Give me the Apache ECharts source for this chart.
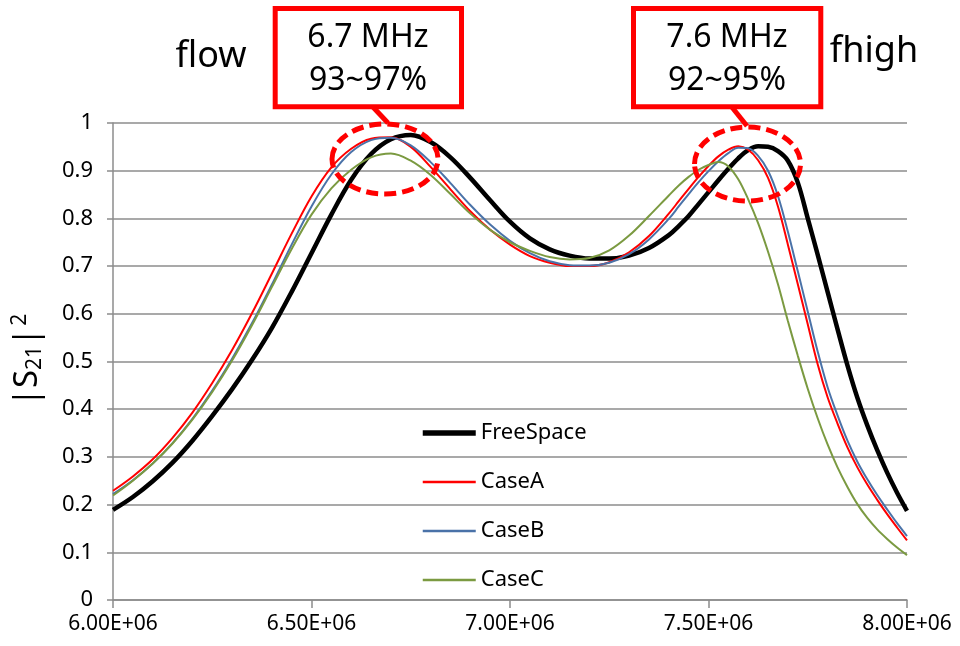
<!DOCTYPE html>
<html>
<head>
<meta charset="utf-8">
<title>|S21|^2 vs frequency</title>
<script src="https://cdn.jsdelivr.net/npm/echarts@6/dist/echarts.min.js"></script>
<style>
  html, body { margin: 0; padding: 0; background: #ffffff; }
  #chart { width: 960px; height: 646px; }
</style>
</head>
<body>
<div id="chart"></div>
<script>
// Frequency samples (MHz): 50 kHz steps, 25 kHz steps over the upper band edge
const freqMHz = [
  6.00, 6.05, 6.10, 6.15, 6.20, 6.25, 6.30, 6.35, 6.40, 6.45,
  6.50, 6.55, 6.60, 6.65, 6.70, 6.75, 6.80, 6.85, 6.90, 6.95,
  7.00, 7.05, 7.10, 7.15, 7.20, 7.25, 7.30, 7.35, 7.40, 7.425,
  7.45, 7.475, 7.50, 7.525, 7.55, 7.575, 7.60, 7.625, 7.65, 7.675,
  7.70, 7.725, 7.75, 7.775, 7.80, 7.825, 7.85, 7.875, 7.90, 7.925,
  7.95, 7.975, 8.00
];

// |S21|^2 for each configuration
const freeSpace = [
  0.189, 0.216, 0.249, 0.288, 0.334, 0.386, 0.442, 0.503, 0.570, 0.646,
  0.727, 0.808, 0.881, 0.935, 0.966, 0.975, 0.960, 0.928, 0.885, 0.838,
  0.793, 0.758, 0.735, 0.722, 0.716, 0.716, 0.722, 0.738, 0.765, 0.784,
  0.805, 0.830, 0.855, 0.880, 0.904, 0.926, 0.943, 0.951, 0.950, 0.941,
  0.921, 0.875, 0.800, 0.724, 0.646, 0.568, 0.492, 0.424, 0.366, 0.314,
  0.267, 0.225, 0.187
];
const caseA = [
  0.229, 0.259, 0.295, 0.340, 0.393, 0.455, 0.524, 0.601, 0.684, 0.768,
  0.846, 0.907, 0.946, 0.967, 0.970, 0.950, 0.908, 0.861, 0.815, 0.776,
  0.745, 0.721, 0.707, 0.700, 0.700, 0.708, 0.729, 0.763, 0.810, 0.836,
  0.862, 0.887, 0.910, 0.930, 0.944, 0.951, 0.944, 0.922, 0.885, 0.825,
  0.745, 0.662, 0.578, 0.494, 0.425, 0.370, 0.320, 0.278, 0.242, 0.210,
  0.180, 0.152, 0.125
];
const caseB = [
  0.222, 0.251, 0.286, 0.329, 0.380, 0.439, 0.506, 0.580, 0.661, 0.745,
  0.825, 0.892, 0.939, 0.964, 0.969, 0.953, 0.918, 0.874, 0.828, 0.787,
  0.753, 0.727, 0.710, 0.702, 0.701, 0.707, 0.725, 0.756, 0.799, 0.825,
  0.851, 0.876, 0.899, 0.920, 0.937, 0.948, 0.947, 0.931, 0.900, 0.847,
  0.772, 0.689, 0.605, 0.521, 0.446, 0.387, 0.334, 0.290, 0.253, 0.220,
  0.190, 0.161, 0.134
];
const caseC = [
  0.219, 0.250, 0.286, 0.328, 0.378, 0.436, 0.502, 0.576, 0.656, 0.736,
  0.808, 0.863, 0.902, 0.928, 0.936, 0.921, 0.891, 0.851, 0.810, 0.776,
  0.750, 0.732, 0.719, 0.714, 0.717, 0.733, 0.764, 0.805, 0.848, 0.869,
  0.887, 0.902, 0.912, 0.918, 0.909, 0.882, 0.840, 0.790, 0.730, 0.662,
  0.585, 0.512, 0.443, 0.381, 0.326, 0.278, 0.237, 0.201, 0.172, 0.148,
  0.128, 0.110, 0.094
];

const seriesNames = ['FreeSpace', 'CaseA', 'CaseB', 'CaseC'];
const seriesValues = [freeSpace, caseA, caseB, caseC];
const seriesColors = ['#000000', '#ff0000', '#4a72a8', '#7b9a41'];
const seriesWidths = [4.5, 2, 2, 2];
const legendWidths = [5.5, 2.5, 2.5, 2.5];

const FONT = "'Noto Sans', 'Liberation Sans', sans-serif";
const GRID_GRAY = '#8c8c8c';
const RED = '#ff0000';

function toPairs(values) {
  return values.map((v, i) => [freqMHz[i] * 1e6, v]);
}

const chart = echarts.init(document.getElementById('chart'), null, { renderer: 'canvas' });

const option = {
  animation: false,
  backgroundColor: '#ffffff',
  textStyle: { fontFamily: FONT },
  grid: { left: 113, right: 53, top: 123, bottom: 46, containLabel: false },
  xAxis: {
    type: 'value',
    min: 6e6,
    max: 8e6,
    interval: 5e5,
    axisLine: { show: true, lineStyle: { color: GRID_GRAY, width: 1.5 } },
    axisTick: { show: true, inside: false, length: 8, lineStyle: { color: GRID_GRAY, width: 1.5 } },
    splitLine: { show: false },
    axisLabel: {
      margin: 14,
      fontSize: 21,
      color: '#000000',
      fontFamily: FONT,
      formatter: v => (v / 1e6).toFixed(2) + 'E+06'
    }
  },
  yAxis: {
    type: 'value',
    min: 0,
    max: 1,
    interval: 0.1,
    axisLine: { show: true, lineStyle: { color: GRID_GRAY, width: 1.5 } },
    axisTick: { show: true, inside: false, length: 6, lineStyle: { color: GRID_GRAY, width: 1.5 } },
    splitLine: { show: true, lineStyle: { color: GRID_GRAY, width: 1.5 } },
    axisLabel: {
      margin: 20,
      fontSize: 22,
      color: '#000000',
      fontFamily: FONT,
      formatter: v => String(Math.round(v * 10) / 10)
    }
  },
  legend: {
    orient: 'vertical',
    left: 420,
    top: 422,
    padding: 0,
    itemWidth: 53,
    itemHeight: 20,
    itemGap: 27,
    data: seriesNames.map((name, i) => ({
      name: name,
      lineStyle: { color: seriesColors[i], width: legendWidths[i] }
    })),
    itemStyle: { color: 'rgba(0,0,0,0)', borderWidth: 0, opacity: 0 },
    textStyle: { fontSize: 22, color: '#000000', fontFamily: FONT },
    selectedMode: false
  },
  series: seriesNames.map((name, i) => ({
    name: name,
    type: 'line',
    data: toPairs(seriesValues[i]),
    smooth: 0.35,
    symbol: 'none',
    showSymbol: false,
    color: seriesColors[i],
    lineStyle: { color: seriesColors[i], width: seriesWidths[i] },
    emphasis: { disabled: true },
    z: 2
  })),
  graphic: [
    // highlighted peak regions
    {
      type: 'ellipse', z: 100,
      shape: { cx: 385, cy: 159, rx: 53, ry: 35 },
      style: { fill: 'none', stroke: RED, lineWidth: 5, lineDash: [12, 6] }
    },
    {
      type: 'ellipse', z: 100,
      shape: { cx: 747.5, cy: 164, rx: 53, ry: 37 },
      style: { fill: 'none', stroke: RED, lineWidth: 5, lineDash: [12, 6] }
    },
    // callout pointers
    {
      type: 'line', z: 100,
      shape: { x1: 372, y1: 106, x2: 388, y2: 123 },
      style: { stroke: RED, lineWidth: 5 }
    },
    {
      type: 'line', z: 100,
      shape: { x1: 731, y1: 106, x2: 747, y2: 126 },
      style: { stroke: RED, lineWidth: 5 }
    },
    // callout boxes
    {
      type: 'rect', z: 101,
      shape: { x: 275.2, y: 8.5, width: 186.3, height: 98.3 },
      style: { fill: '#ffffff', stroke: RED, lineWidth: 5 }
    },
    {
      type: 'rect', z: 101,
      shape: { x: 633.5, y: 8.5, width: 187.3, height: 98.3 },
      style: { fill: '#ffffff', stroke: RED, lineWidth: 5 }
    },
    {
      type: 'text', z: 102,
      style: { x: 368, y: 38, text: '6.7 MHz', fill: '#000000', font: '32px ' + FONT, textAlign: 'center', textVerticalAlign: 'middle' }
    },
    {
      type: 'text', z: 102,
      style: { x: 368, y: 81, text: '93~97%', fill: '#000000', font: '32px ' + FONT, textAlign: 'center', textVerticalAlign: 'middle' }
    },
    {
      type: 'text', z: 102,
      style: { x: 727, y: 38, text: '7.6 MHz', fill: '#000000', font: '32px ' + FONT, textAlign: 'center', textVerticalAlign: 'middle' }
    },
    {
      type: 'text', z: 102,
      style: { x: 727, y: 81, text: '92~95%', fill: '#000000', font: '32px ' + FONT, textAlign: 'center', textVerticalAlign: 'middle' }
    },
    // band edge labels
    {
      type: 'text', z: 102,
      style: { x: 211, y: 57, text: 'flow', fill: '#000000', font: '36px ' + FONT, textAlign: 'center', textVerticalAlign: 'middle' }
    },
    {
      type: 'text', z: 102,
      style: { x: 874, y: 52, text: 'fhigh', fill: '#000000', font: '36px ' + FONT, textAlign: 'center', textVerticalAlign: 'middle' }
    },
    // y-axis title |S21|^2
    {
      type: 'text', z: 102,
      x: 28, y: 360,
      rotation: Math.PI / 2,
      style: {
        text: '{b||S}{sub|21}{b||}{sup|2}',
        fill: '#000000',
        align: 'center',
        verticalAlign: 'middle',
        rich: {
          b: { fontSize: 33, fontFamily: FONT, lineHeight: 40, verticalAlign: 'middle' },
          sub: { fontSize: 21, fontFamily: FONT, lineHeight: 40, verticalAlign: 'bottom', padding: [0, 0, 2, 0] },
          sup: { fontSize: 21, fontFamily: FONT, lineHeight: 40, verticalAlign: 'top', padding: [2, 0, 0, 2] }
        }
      }
    }
  ]
};

chart.setOption(option);
</script>
</body>
</html>
